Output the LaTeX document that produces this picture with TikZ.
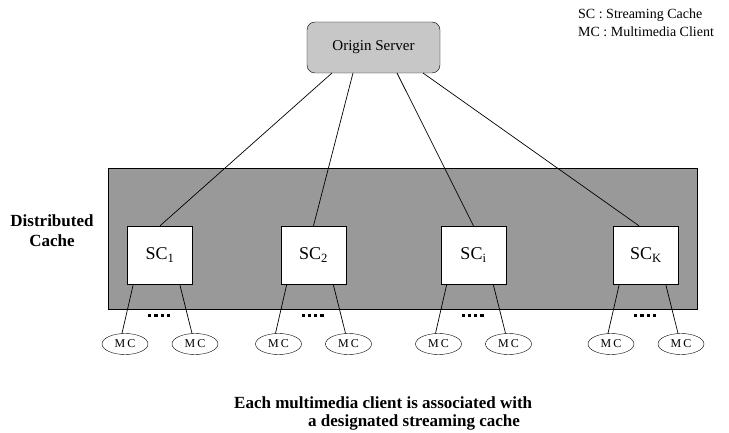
\documentclass[tikz,border=0pt]{standalone}
\usepackage{fontspec}
\usetikzlibrary{shapes.geometric}
\setmainfont{Liberation Serif}
\begin{document}
\begin{tikzpicture}[x=1pt,y=-1pt,
  server/.style={draw, rounded corners=8pt, fill=black!22, minimum width=133pt, minimum height=51pt, font=\fontsize{15}{18}\selectfont},
  scbox/.style={draw, fill=white, minimum width=65pt, minimum height=58pt, font=\fontsize{18}{20}\selectfont},
  mc/.style={draw, ellipse, minimum width=46pt, minimum height=21pt, inner sep=0pt, font=\fontsize{12}{13}\selectfont},
  link/.style={line width=0.7pt},
  dotsq/.style={fill=black}
]
\useasboundingbox (0,0) rectangle (729,433);
% cache area
\node[draw, fill=black!40, minimum width=589pt, minimum height=141pt, anchor=north west, inner sep=0pt] (cache) at (108,168) {};
% server
\node[server] (os) at (373.5,47.5) {Origin Server};
% legend
\node[anchor=west, inner sep=0pt, font=\fontsize{14}{16}\selectfont] (leg1) at (578,15) {SC : Streaming Cache};
\node[anchor=west, inner sep=0pt, font=\fontsize{14}{16}\selectfont] (leg2) at (578,32) {MC : Multimedia Client};
% distributed cache label
\node[align=center, font=\bfseries\fontsize{17}{20}\selectfont] (dl) at (52,231) {Distributed\\Cache};
% SC boxes
\node[scbox] (sc1) at (160,255) {SC\textsubscript{1}};
\node[scbox] (sc2) at (313.5,255) {SC\textsubscript{2}};
\node[scbox] (sci) at (473.5,255) {SC\textsubscript{i}};
\node[scbox] (sck) at (646,255) {SC\textsubscript{K}};
% server links
\coordinate (o1) at (332,73);
\coordinate (o2) at (353,73);
\coordinate (o3) at (397,73);
\coordinate (o4) at (423,73);
\draw[link] (o1) -- (sc1.north);
\draw[link] (o2) -- (sc2.north);
\draw[link] (o3) -- (sci.north);
\draw[link] (o4) -- ([xshift=-7pt]sck.north);
% MC nodes and links
\foreach \s/\c in {sc1/160, sc2/313.5, sci/473.5, sck/646}{
  \node[mc] (\s l) at (\c-35,344) {M\,C};
  \node[mc] (\s r) at (\c+35,344) {M\,C};
  \draw[link] ([xshift=6pt]\s.south west) -- ([xshift=-3pt]\s l.north);
  \draw[link] ([xshift=-13pt]\s.south east) -- ([xshift=-3pt]\s r.north);
  \foreach \k in {0,1,2,3}{
    \fill[dotsq] (\c-12+6.3*\k,314) rectangle ++(3.2,3.2);
  }
}
% caption
\node[anchor=base west, inner sep=0pt, font=\bfseries\fontsize{17}{20}\selectfont] (cap1) at (234,408) {Each multimedia client is associated with};
\node[anchor=base west, inner sep=0pt, font=\bfseries\fontsize{17}{20}\selectfont] (cap2) at (308,426) {a designated streaming cache};
\end{tikzpicture}
\end{document}
